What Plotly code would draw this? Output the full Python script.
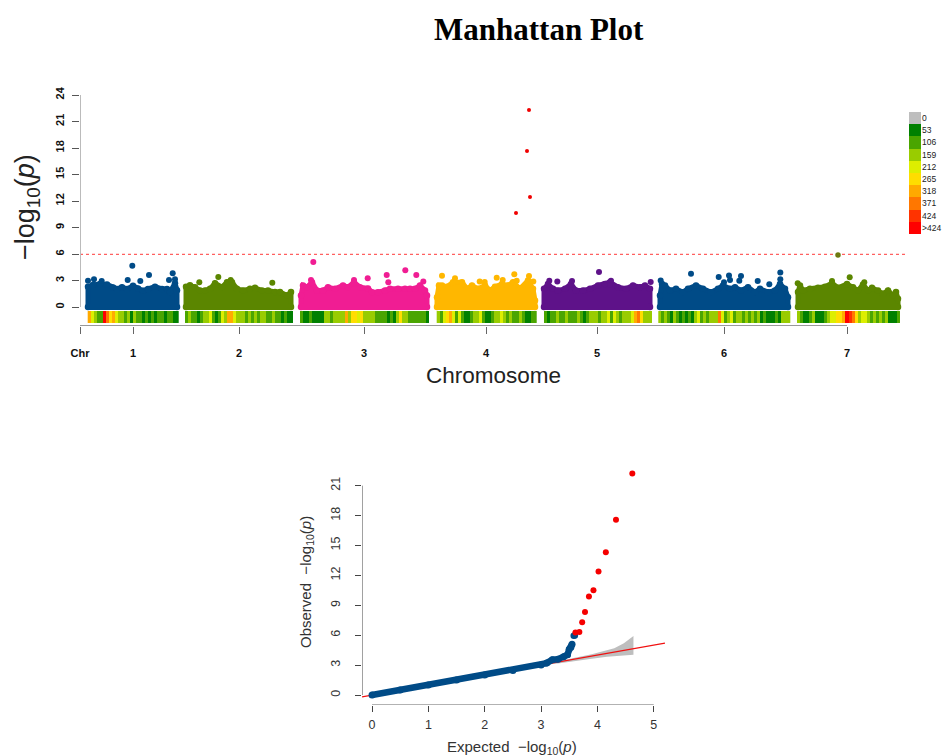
import plotly.graph_objects as go

W, H = 942, 756
CHR_LABELS = ["Chr", "1", "2", "3", "4", "5", "6", "7"]
CHR_TICKS = [80, 133, 239, 364, 486, 597, 724, 847]
CHR_COLORS = ["#004B87", "#5B8600", "#F01D93", "#FFB700", "#5E1289", "#004B87", "#5B8600"]

# Upper envelope of the dense point cloud of each chromosome
env_x = [
    [88, 93, 100, 107, 113, 117, 122, 127, 133, 138, 143, 148, 155, 162, 167, 170, 175, 177],
    [186, 190, 195, 200, 205, 210, 215, 222, 227, 232, 237, 243, 250, 255, 262, 268, 275, 280, 287, 291],
    [301, 303, 307, 312, 317, 323, 328, 335, 343, 348, 354, 360, 368, 372, 378, 385, 390, 398, 405, 410, 415, 420, 425, 427],
    [437, 439, 442, 447, 453, 462, 467, 472, 478, 485, 490, 495, 502, 508, 513, 520, 528, 533, 535],
    [544, 548, 553, 558, 565, 571, 576, 583, 590, 598, 605, 610, 618, 626, 633, 640, 645, 650],
    [660, 662, 665, 670, 676, 683, 688, 696, 703, 711, 718, 723, 730, 735, 741, 748, 755, 760, 768, 775, 780, 785, 788],
    [798, 800, 803, 810, 818, 825, 832, 838, 847, 853, 858, 863, 868, 872, 878, 883, 888, 893, 896, 898],
]
env_y = [
    [2.3, 2.5, 2.6, 2.55, 2.2, 2.05, 2.25, 2.05, 2.4, 2.1, 1.85, 2.05, 2.3, 2.05, 2.05, 1.7, 2.7, 1.9],
    [2.3, 2.45, 2.25, 1.87, 1.87, 2.06, 2.7, 2.25, 2.8, 2.8, 2.06, 1.87, 2.06, 2.18, 1.87, 1.87, 1.7, 1.7, 1.3, 1.7],
    [1.3, 2.44, 2.25, 2.8, 1.87, 1.87, 2.25, 2.06, 2.44, 2.25, 2.8, 2.25, 2.1, 1.68, 1.68, 1.87, 2.06, 2.06, 2.06, 2.06, 2.06, 2.44, 1.87, 1.3],
    [1.1, 2.44, 2.44, 2.3, 2.8, 2.8, 2.06, 2.44, 2.06, 2.44, 1.87, 2.3, 2.6, 2.44, 2.8, 2.06, 3.0, 2.06, 0.75],
    [2.06, 2.6, 2.06, 1.87, 2.06, 2.6, 1.87, 1.87, 2.06, 2.44, 2.6, 2.8, 2.25, 2.06, 2.44, 2.25, 2.44, 2.06],
    [1.3, 2.6, 2.44, 1.87, 2.06, 1.68, 2.06, 2.44, 2.06, 1.68, 2.06, 2.44, 2.06, 2.25, 1.87, 2.25, 1.68, 2.06, 1.68, 1.87, 2.6, 2.06, 1.1],
    [1.7, 2.44, 1.87, 2.06, 2.18, 2.3, 2.7, 2.18, 2.6, 2.25, 1.87, 2.55, 1.87, 2.18, 1.87, 1.5, 1.87, 1.3, 1.7, 0.93],
]

# Individual points standing above the cloud
out_x = [
    [132.3, 172.7, 149, 127.7, 140.3, 88, 94, 101.7, 169, 175],
    [218.3, 199.3, 272.3, 230.7],
    [313.3, 405.3, 386.7, 416.3, 367.7, 388.3, 423.3, 311, 354],
    [514.3, 529, 496.7, 502.7, 533.3, 516.7, 479.7, 484.7, 442, 455],
    [599, 549.3, 557.3, 572, 650.7, 611, 610],
    [691, 780.3, 729, 718.7, 741, 739.3, 757.7, 780.3, 769.3, 660.7, 724, 730],
    [849.7, 832, 797.7, 864.3],
]
out_y = [
    [4.68, 3.81, 3.62, 3.06, 2.94, 2.98, 3.13, 2.94, 3.06, 3.13],
    [3.4, 2.79, 2.75, 3.06],
    [5.09, 4.15, 3.62, 3.62, 3.25, 2.79, 2.9, 3.06, 3.06],
    [3.7, 3.5, 3.32, 3.06, 2.9, 2.98, 2.9, 2.83, 3.55, 3.25],
    [3.96, 2.98, 2.9, 2.94, 2.83, 2.98, 2.5],
    [3.77, 3.92, 3.58, 3.4, 3.5, 2.98, 2.94, 3.13, 2.57, 3.0, 2.8, 3.06],
    [3.36, 2.94, 2.68, 2.8],
]
sig_x = [529, 527, 530, 516, 838]
sig_y = [22.3, 17.67, 12.46, 10.65, 5.9]
threshold = 5.95

# SNP-density strip: start, end, and density level per bin
strip_start = [87.7, 185, 300, 436.7, 544, 658.3, 797]
strip_end = [178.3, 292.7, 428.7, 536.7, 651.7, 790, 900]
strip_levels = [
    [6, 4, 3, 2, 2, 9, 7, 5, 6, 4, 3, 3, 2, 3, 1, 3, 2, 2, 1, 2, 1, 2, 1, 2, 2, 1, 2, 2, 1, 1],
    [2, 3, 2, 2, 1, 2, 3, 3, 4, 2, 1, 2, 4, 3, 6, 6, 4, 3, 3, 3, 2, 3, 2, 3, 2, 3, 3, 2, 2, 3, 2, 2, 1, 2, 1, 1],
    [2, 1, 1, 2, 1, 1, 1, 1, 3, 3, 2, 3, 3, 3, 3, 6, 3, 5, 5, 4, 5, 3, 3, 3, 3, 2, 2, 2, 2, 1, 2, 1, 3, 5, 3, 3, 2, 2, 2, 2, 2, 2, 1],
    [3, 2, 4, 5, 6, 4, 2, 4, 2, 1, 1, 2, 3, 3, 4, 2, 1, 1, 2, 3, 3, 4, 3, 2, 3, 2, 2, 3, 2, 1, 1, 2, 2],
    [2, 1, 2, 2, 3, 2, 2, 3, 2, 2, 2, 3, 2, 1, 2, 3, 3, 3, 2, 3, 3, 4, 2, 4, 3, 2, 3, 3, 3, 4, 6, 7, 5, 3, 3, 3],
    [3, 2, 3, 2, 1, 3, 2, 1, 2, 1, 2, 1, 3, 4, 2, 3, 2, 3, 3, 3, 7, 4, 2, 3, 4, 2, 3, 3, 2, 3, 2, 3, 2, 3, 1, 2, 1, 1, 1, 2, 1, 3, 3, 3],
    [3, 2, 1, 1, 2, 3, 1, 1, 1, 2, 3, 4, 4, 5, 5, 6, 9, 8, 7, 5, 3, 4, 4, 3, 2, 3, 2, 3, 2, 3, 1, 1, 1, 2],
]
legend_labels = ["0", "53", "106", "159", "212", "265", "318", "371", "424", ">424"]
legend_colors = ["#BEBEBE", "#008000", "#4AA500", "#99CC00", "#DDEE00", "#FFDD00",
                 "#FFAA00", "#FF7700", "#FF3300", "#FF0000"]

# QQ plot
qq_x = [0, 0.5, 1, 1.5, 2, 2.5, 3, 3.1, 3.2, 3.3, 3.4, 3.47, 3.5, 3.53, 3.55]
qq_y = [0, 0.5, 1, 1.5, 2, 2.45, 3.0, 3.2, 3.55, 3.6, 3.85, 4.05, 4.6, 4.8, 5.1]
qq_tail_x = [3.58, 3.6]
qq_tail_y = [5.95, 5.97]
qq_sig_x = [3.61, 3.68, 3.73, 3.78, 3.85, 3.93, 4.02, 4.15, 4.33, 4.62]
qq_sig_y = [6.27, 6.33, 7.3, 8.33, 9.87, 10.5, 12.4, 14.33, 17.57, 22.23]
band_x = [3.0, 3.3, 3.6, 3.9, 4.17, 4.3, 4.47, 4.64]
band_up = [3.0, 3.4, 3.75, 4.1, 4.5, 4.7, 5.2, 5.93]
band_lo = [3.0, 3.15, 3.4, 3.65, 3.85, 3.93, 4.0, 4.05]
ref_x = [-0.178, 5.2]
ref_y = [-0.178, 5.2]

# Axis extents
M_X_RANGE = [80, 908]
M_Y_RANGE = [-2.15, 24]
Q_X_RANGE = [-0.178, 5.2]
Q_Y_RANGE = [-1.0, 22.57]


def fx(p):
    return p / W


def fy(p):
    return 1 - p / H


step_scale = []
for i, c in enumerate(legend_colors):
    step_scale += [[i / 10, c], [(i + 1) / 10, c]]

fig = go.Figure()

# Density strips, on the Manhattan axes below zero
for i in range(7):
    n = len(strip_levels[i])
    fig.add_trace(go.Heatmap(z=[strip_levels[i]], x0=strip_start[i] + (strip_end[i] - strip_start[i]) / n / 2,
                             dx=(strip_end[i] - strip_start[i]) / n, y0=-1.13, dy=1.36,
                             zmin=-0.5, zmax=9.5, colorscale=step_scale, showscale=False, hoverinfo="skip"))

# Manhattan: cloud and outliers
for i in range(7):
    xs = [env_x[i][0]] + env_x[i] + [env_x[i][-1]]
    ys = [0] + env_y[i] + [0]
    fig.add_trace(go.Scatter(x=xs, y=ys, mode="lines+markers", fill="tozeroy", fillcolor=CHR_COLORS[i],
                             line=dict(color=CHR_COLORS[i], width=5), marker=dict(color=CHR_COLORS[i], size=6.5),
                             cliponaxis=False, showlegend=False, hoverinfo="skip"))
    fig.add_trace(go.Scatter(x=[env_x[i][0], env_x[i][-1]], y=[0, 0], mode="lines",
                             line=dict(color=CHR_COLORS[i], width=6), cliponaxis=False,
                             showlegend=False, hoverinfo="skip"))
    fig.add_trace(go.Scatter(x=out_x[i], y=out_y[i], mode="markers", cliponaxis=False,
                             marker=dict(color=CHR_COLORS[i], size=6), showlegend=False))

fig.add_trace(go.Scatter(x=M_X_RANGE, y=[threshold, threshold], mode="lines", cliponaxis=False,
                         line=dict(color="#FF6060", width=1.2, dash="3px,3px"), showlegend=False))
fig.add_trace(go.Scatter(x=sig_x[:4], y=sig_y[:4], mode="markers", cliponaxis=False,
                         marker=dict(color="#F00000", size=4), showlegend=False))
fig.add_trace(go.Scatter(x=sig_x[4:], y=sig_y[4:], mode="markers", cliponaxis=False,
                         marker=dict(color="#6E7A10", size=5.5), showlegend=False))
# Axis lines that stop at the last tick
fig.add_trace(go.Scatter(x=[80, 80], y=[0, 24], mode="lines", cliponaxis=False,
                         line=dict(color="#BBBBBB", width=2), showlegend=False, hoverinfo="skip"))
fig.add_trace(go.Scatter(x=[80, 847], y=[M_Y_RANGE[0], M_Y_RANGE[0]], mode="lines", cliponaxis=False,
                         line=dict(color="#999999", width=2), showlegend=False, hoverinfo="skip"))

# QQ
fig.add_trace(go.Scatter(x=band_x + band_x[::-1], y=band_up + band_lo[::-1], xaxis="x3", yaxis="y3",
                         mode="lines", fill="toself", fillcolor="#BEBEBE", line=dict(width=0),
                         cliponaxis=False, showlegend=False, hoverinfo="skip"))
fig.add_trace(go.Scatter(x=ref_x, y=ref_y, xaxis="x3", yaxis="y3", mode="lines", cliponaxis=False,
                         line=dict(color="#F01010", width=1.3), showlegend=False))
fig.add_trace(go.Scatter(x=qq_x, y=qq_y, xaxis="x3", yaxis="y3", mode="lines+markers", cliponaxis=False,
                         line=dict(color="#004B87", width=6.5), marker=dict(color="#004B87", size=7),
                         showlegend=False))
fig.add_trace(go.Scatter(x=qq_tail_x, y=qq_tail_y, xaxis="x3", yaxis="y3", mode="markers", cliponaxis=False,
                         marker=dict(color="#004B87", size=6.5), showlegend=False))
fig.add_trace(go.Scatter(x=qq_sig_x, y=qq_sig_y, xaxis="x3", yaxis="y3", mode="markers", cliponaxis=False,
                         marker=dict(color="#F50000", size=6), showlegend=False))
fig.add_trace(go.Scatter(x=[Q_X_RANGE[0], Q_X_RANGE[0]], y=[0, 21], xaxis="x3", yaxis="y3", mode="lines",
                         cliponaxis=False, line=dict(color="#444444", width=1), showlegend=False, hoverinfo="skip"))
fig.add_trace(go.Scatter(x=[0, 5], y=[Q_Y_RANGE[0], Q_Y_RANGE[0]], xaxis="x3", yaxis="y3", mode="lines",
                         cliponaxis=False, line=dict(color="#999999", width=1.5), showlegend=False, hoverinfo="skip"))

# Colour key
fig.add_trace(go.Heatmap(z=[[i] for i in range(10)], x=[0], y=legend_labels, xaxis="x4", yaxis="y4",
                         zmin=-0.5, zmax=9.5, colorscale=step_scale, showscale=False, hoverinfo="skip"))

bold = dict(family="Liberation Sans", size=11, color="#111111")
reg = dict(family="Liberation Sans", size=12.5, color="#333333")


def note(text, px, py, size, family="Liberation Sans", color="#222222", angle=0):
    return dict(text=text, x=fx(px), y=fy(py), xref="paper", yref="paper", showarrow=False,
                xanchor="center", yanchor="middle", textangle=angle,
                font=dict(family=family, size=size, color=color))


fig.update_layout(
    template="none",
    width=W, height=H, margin=dict(l=0, r=0, t=0, b=0),
    paper_bgcolor="white", plot_bgcolor="rgba(0,0,0,0)", showlegend=False,
    font=dict(family="Liberation Sans"),
    xaxis=dict(domain=[fx(80), fx(908)], range=M_X_RANGE, anchor="y",
               showgrid=False, zeroline=False, showline=False,
               tickmode="array", tickvals=CHR_TICKS, ticktext=[f"<b>{t}</b>" for t in CHR_LABELS],
               ticks="outside", ticklen=7, tickcolor="#666666", tickwidth=1, tickfont=bold,
               ticklabelstandoff=10),
    yaxis=dict(domain=[fy(326), fy(95)], range=M_Y_RANGE, anchor="x",
               showgrid=False, zeroline=False, showline=False,
               tickmode="array", tickvals=list(range(0, 25, 3)),
               ticktext=[f"<b>{v}</b>" for v in range(0, 25, 3)],
               ticks="outside", ticklen=7, tickcolor="#555555", tickwidth=1, tickfont=bold,
               tickangle=-90, ticklabelstandoff=4),
    xaxis3=dict(domain=[fx(362), fx(665)], range=Q_X_RANGE, anchor="y3",
                showgrid=False, zeroline=False, showline=False,
                tickmode="array", tickvals=list(range(6)), ticks="outside", ticklen=6,
                tickcolor="#444444", tickfont=reg, ticklabelstandoff=2),
    yaxis3=dict(domain=[fy(705), fy(470)], range=Q_Y_RANGE, anchor="x3",
                showgrid=False, zeroline=False, showline=False,
                tickmode="array", tickvals=list(range(0, 22, 3)), ticks="outside", ticklen=6,
                tickcolor="#444444", tickfont=reg, tickangle=-90, ticklabelstandoff=10),
    xaxis4=dict(domain=[fx(909), fx(921)], anchor="y4", visible=False),
    yaxis4=dict(domain=[fy(234), fy(112)], anchor="x4", autorange="reversed", side="right",
                type="category", showgrid=False, zeroline=False, showline=False, ticks="",
                tickfont=dict(family="Liberation Sans", size=8.5, color="#222222")),
    annotations=[
        note("<b>Manhattan Plot</b>", 539, 29, 31, family="Liberation Serif", color="black"),
        note("Chromosome", 493, 375, 22.5),
        note("\u2212log<sub>10</sub>(<i>p</i>)", 27, 207, 27, angle=-90),
        note("Expected  \u2212log<sub>10</sub>(<i>p</i>)", 512, 747, 15, color="#333333"),
        note("Observed  \u2212log<sub>10</sub>(<i>p</i>)", 306, 582, 15, color="#333333", angle=-90),
    ],
)

fig.write_html("out.html", config=dict(displayModeBar=False),
               post_script="document.body.style.margin='0';document.body.style.overflow='hidden';")
